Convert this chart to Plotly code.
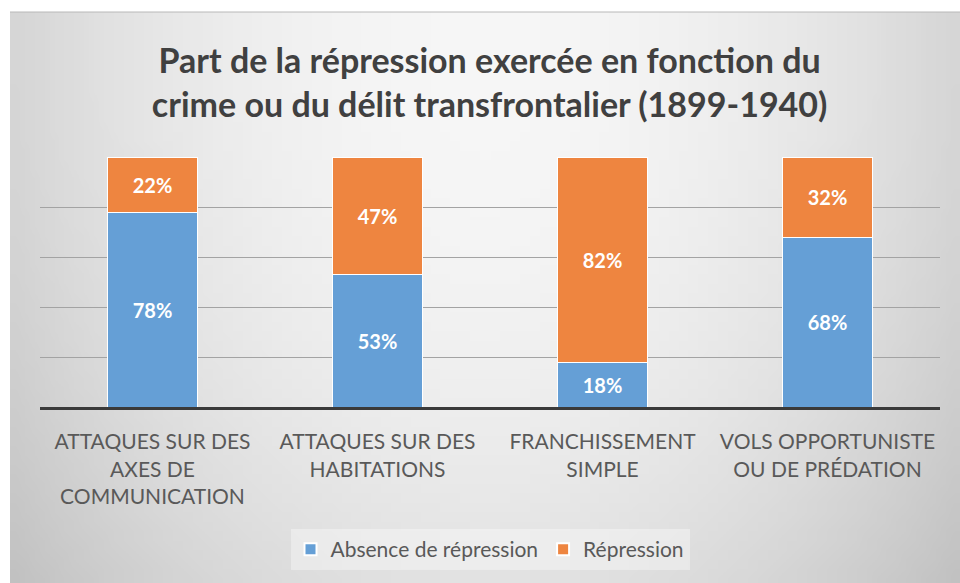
import base64
import struct
import zlib

import plotly.graph_objects as go

# --- data -------------------------------------------------------------
categories = [
    "ATTAQUES SUR DES<br>AXES DE<br>COMMUNICATION",
    "ATTAQUES SUR DES<br>HABITATIONS",
    "FRANCHISSEMENT<br>SIMPLE",
    "VOLS OPPORTUNISTE<br>OU DE PRÉDATION",
]
absence_repression = [78, 53, 18, 68]
repression = [22, 47, 82, 32]
series_names = ["Absence de répression", "Répression"]

TITLE = ("Part de la répression exercée en fonction du<br>"
         "crime ou du délit transfrontalier (1899-1940)")

BLUE = "#659fd6"
ORANGE = "#ee8540"
FONT = "Lato"


# --- soft grey backdrop, built as a tiny PNG and stretched ------------
def gradient_png(w=96, h=60):
    rows = []
    for j in range(h):
        fy = j / (h - 1)
        row = bytearray([0])
        for i in range(w):
            fx = i / (w - 1)
            dx = fx - 0.5
            dy = max(fy - 0.12, 0)
            v = 246 - 130 * dx * dx - 26 * dy * dy
            v = int(max(0, min(255, round(v))))
            row += bytes((v, v, v))
        rows.append(bytes(row))
    raw = b"".join(rows)

    def chunk(tag, data):
        c = struct.pack(">I", len(data)) + tag + data
        return c + struct.pack(">I", zlib.crc32(tag + data) & 0xFFFFFFFF)

    png = b"\x89PNG\r\n\x1a\n"
    png += chunk(b"IHDR", struct.pack(">IIBBBBB", w, h, 8, 2, 0, 0, 0))
    png += chunk(b"IDAT", zlib.compress(raw, 9))
    png += chunk(b"IEND", b"")
    return "data:image/png;base64," + base64.b64encode(png).decode()


# --- figure -----------------------------------------------------------
W, H = 960, 583
L, R, T, B = 40, 20, 157, 176
pw, ph = W - L - R, H - T - B


def px_x(x):
    return (x - L) / pw


def px_y(y):
    return (H - B - y) / ph


label_font = dict(family=FONT, size=20, color="white", weight="bold")

fig = go.Figure()
fig.add_trace(go.Bar(
    x=categories, y=absence_repression, name=series_names[0],
    marker=dict(color=BLUE, line=dict(color="white", width=1)),
    texttemplate="%{y}%", textposition="inside", insidetextanchor="middle",
    textfont=label_font, hoverinfo="skip",
))
fig.add_trace(go.Bar(
    x=categories, y=repression, name=series_names[1],
    marker=dict(color=ORANGE, line=dict(color="white", width=1)),
    texttemplate="%{y}%", textposition="inside", insidetextanchor="middle",
    textfont=label_font, hoverinfo="skip",
))

fig.update_layout(
    width=W, height=H,
    margin=dict(l=L, r=R, t=T, b=B),
    barmode="stack", bargap=0.6,
    paper_bgcolor="white", plot_bgcolor="rgba(0,0,0,0)",
    font=dict(family=FONT, color="#595959"),
    uniformtext=dict(mode="show", minsize=20),
    title=dict(
        text=TITLE, x=0.51, xanchor="center", y=1 - 73 / H, yanchor="middle",
        font=dict(family=FONT, size=34, color="#404040", weight="bold"),
    ),
    showlegend=True,
    legend=dict(
        orientation="h", x=0.5, xanchor="center", y=px_y(529), yanchor="top",
        bgcolor="rgba(255,255,255,0.35)", borderwidth=0,
        font=dict(family=FONT, size=21, color="#595959"),
        itemsizing="constant", traceorder="normal",
    ),
    images=[dict(
        source=gradient_png(), xref="paper", yref="paper",
        x=px_x(10), y=px_y(12), sizex=px_x(960) - px_x(10),
        sizey=px_y(12) - px_y(583), xanchor="left", yanchor="top",
        sizing="stretch", layer="below",
    )],
    shapes=[dict(
        type="line", xref="paper", yref="paper",
        x0=px_x(10), x1=px_x(960), y0=px_y(12), y1=px_y(12),
        line=dict(color="#b8b8b8", width=1), layer="below",
    )],
)

fig.update_xaxes(
    showgrid=False, showline=True, linecolor="#3a3a3a", linewidth=3,
    ticks="", tickangle=0, ticklabelstandoff=14,
    tickfont=dict(family=FONT, size=21, color="#595959"),
)
fig.update_yaxes(
    range=[0, 100], dtick=20, showgrid=True, gridcolor="#a3a3a3",
    gridwidth=1, zeroline=False, showticklabels=False, ticks="",
)

fig.write_html("out.html")
